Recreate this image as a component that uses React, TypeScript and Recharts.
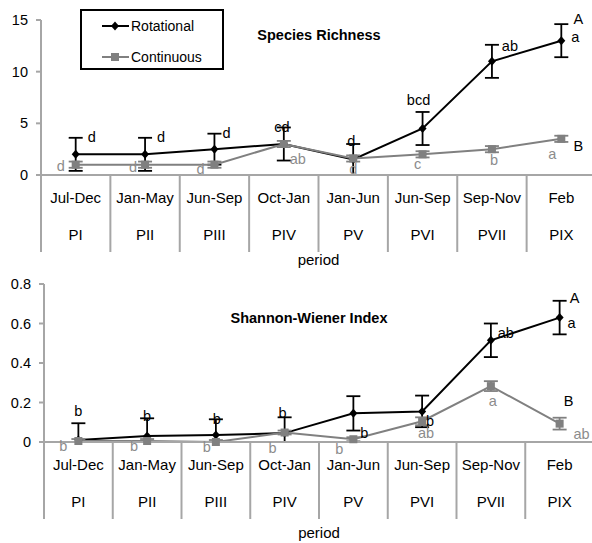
import React from "react";
import { LineChart, Line, XAxis, YAxis, ErrorBar, LabelList, Legend } from "recharts";

const months = ["Jul-Dec", "Jan-May", "Jun-Sep", "Oct-Jan", "Jan-Jun", "Jun-Sep", "Sep-Nov", "Feb"];
const periods = ["PI", "PII", "PIII", "PIV", "PV", "PVI", "PVII", "PIX"];
const seriesNames = ["Rotational", "Continuous"];

// Species richness
const richRot = [2, 2, 2.5, 3, 1.5, 4.5, 11, 13];
const richRotErr = [1.6, 1.6, 1.5, 1.6, 1.5, 1.6, 1.6, 1.6];
const richCont = [1, 1, 1, 3, 1.6, 2, 2.5, 3.5];
const richContErr = [0.3, 0.3, 0.3, 0.3, 0.3, 0.3, 0.3, 0.3];
const richRotLetters = ["d", "d", "d", "cd", "d", "bcd", "ab", "a"];
const richContLetters = ["d", "d", "d", "ab", "d", "c", "b", "a"];
const richTicks = [0, 5, 10, 15];

// Shannon-Wiener index
const shanRot = [0.01, 0.03, 0.035, 0.045, 0.145, 0.155, 0.515, 0.63];
const shanRotErr = [0.085, 0.09, 0.08, 0.08, 0.087, 0.08, 0.085, 0.085];
const shanCont = [0.005, 0.005, 0, 0.048, 0.014, 0.105, 0.283, 0.093];
const shanContErr = [0.01, 0.01, 0.01, 0.01, 0.01, 0.02, 0.025, 0.03];
const shanRotLetters = ["b", "b", "b", "b", "b", "b", "ab", "a"];
const shanContLetters = ["b", "b", "b", "b", "b", "ab", "a", "ab"];
const shanTicks = [0, 0.2, 0.4, 0.6, 0.8];

const groupLetters = ["A", "B"];

// letter placement (px offset from the point)
const richRotPos = [[16, -17], [16, -17], [12, -16], [-2, -17], [-2, -19], [-4, -29], [18, -15], [14, -4]];
const richContPos = [[-15, 1], [-12, 2], [-14, 4], [14, 15], [0, 10], [-5, 10], [2, 11], [-9, 15]];
const shanRotPos = [[0, -29], [0, -20], [1, -16], [-2, -20], [11, 20], [8, 10], [15, -7], [12, 5]];
const shanContPos = [[-15, 5], [-13, 5], [-9, 5], [-12, 15], [-14, 10], [4, 12], [2, 15], [22, 10]];

const BLACK = "#000000";
const GREY = "#808080";
const GREY_TXT = "#8c8c8c";
const AXIS = "#a6a6a6";
const FONT = "'Liberation Sans', Arial, sans-serif";

// error bars stop at the category axis (value 0), like the original plot
const errRange = (v: number, e: number) => [Math.min(e, v), e];

const buildRows = (rot: number[], rotErr: number[], cont: number[], contErr: number[], rotL: string[], contL: string[]) =>
  months.map((m, i) => ({
    i,
    rot: rot[i],
    rotErr: errRange(rot[i], rotErr[i]),
    cont: cont[i],
    contErr: errRange(cont[i], contErr[i]),
    rotL: rotL[i],
    contL: contL[i],
  }));

const richData = buildRows(richRot, richRotErr, richCont, richContErr, richRotLetters, richContLetters);
const shanData = buildRows(shanRot, shanRotErr, shanCont, shanContErr, shanRotLetters, shanContLetters);

const seps = [-0.5, 0.5, 1.5, 2.5, 3.5, 4.5, 5.5, 6.5, 7.5];
const cats = [0, 1, 2, 3, 4, 5, 6, 7];

const Diamond = (props: any) => {
  const { cx, cy } = props;
  if (cx == null || cy == null) return null;
  return <path d={`M${cx},${cy - 4.5}L${cx + 4},${cy}L${cx},${cy + 4.5}L${cx - 4},${cy}Z`} fill={BLACK} />;
};

const Square = (props: any) => {
  const { cx, cy } = props;
  if (cx == null || cy == null) return null;
  return <rect x={cx - 4} y={cy - 4} width={8} height={8} fill={GREY} />;
};

const EmptyTick = () => <g />;

const PeriodTick = (props: any) => {
  const { x, y, payload } = props;
  const i = payload.value;
  return (
    <g>
      <text x={x} y={y + 22.5} dy="0.35em" textAnchor="middle" fontSize={15} fill="#000">
        {months[i]}
      </text>
      <text x={x} y={y + 60} dy="0.35em" textAnchor="middle" fontSize={15} fill="#000">
        {periods[i]}
      </text>
    </g>
  );
};

const makeLetters =
  (pos: number[][], color: string, group: string, groupPos: number[]) => (props: any) => {
    const { x, y, index, value } = props;
    const [dx, dy] = pos[index];
    return (
      <g>
        <text x={x + dx} y={y + dy} dy="0.35em" textAnchor="middle" fontSize={14.5} fill={color}>
          {value}
        </text>
        {index === months.length - 1 && (
          <text x={x + groupPos[0]} y={y + groupPos[1]} dy="0.35em" textAnchor="middle" fontSize={14.5} fill={BLACK}>
            {group}
          </text>
        )}
      </g>
    );
  };

const LegendBox = (props: any) => {
  const items = [...(props.payload || [])].sort(
    (a: any, b: any) => seriesNames.indexOf(a.value) - seriesNames.indexOf(b.value)
  );
  return (
    <div style={{ position: "relative", width: 140, height: 57, border: "2px solid #000", background: "#fff", fontFamily: FONT }}>
      {items.map((p: any, k: number) => (
        <div
          key={p.value}
          style={{ position: "absolute", left: 0, top: (k === 0 ? 15 : 46) - 8, height: 16, display: "flex", alignItems: "center" }}
        >
          <svg width={49} height={16} style={{ display: "block" }}>
            <line x1={20} y1={8} x2={47} y2={8} stroke={p.color} strokeWidth={2} />
            {p.value === seriesNames[0] ? <Diamond cx={33} cy={8} /> : <Square cx={33} cy={8} />}
          </svg>
          <span style={{ fontSize: 14, color: "#000", lineHeight: "16px" }}>{p.value}</span>
        </div>
      ))}
    </div>
  );
};

type PanelProps = {
  data: any[];
  height: number;
  top: number;
  yWidth: number;
  margin: any;
  domain: number[];
  ticks: number[];
  rotPos: number[][];
  contPos: number[][];
  groupA: number[];
  groupB: number[];
  labelOffset: number;
  legend?: boolean;
};

const Panel = (p: PanelProps) => (
  <div style={{ position: "absolute", left: 0, top: p.top }}>
    <LineChart width={600} height={p.height} data={p.data} margin={p.margin}>
      <XAxis
        xAxisId="main"
        type="number"
        dataKey="i"
        domain={[-0.5, 7.5]}
        ticks={cats}
        interval={0}
        height={1}
        tickSize={0}
        tickMargin={0}
        tickLine={false}
        axisLine={{ stroke: AXIS, strokeWidth: 2 }}
        tick={<PeriodTick />}
        label={{ value: "period", position: "bottom", offset: p.labelOffset, fontSize: 15, fill: "#000" }}
      />
      <XAxis
        xAxisId="sep"
        type="number"
        dataKey="i"
        domain={[-0.5, 7.5]}
        ticks={seps}
        interval={0}
        height={1}
        tick={<EmptyTick />}
        tickSize={76}
        tickLine={{ stroke: AXIS, strokeWidth: 2 }}
        axisLine={false}
      />
      <YAxis
        domain={p.domain}
        ticks={p.ticks}
        interval={0}
        width={p.yWidth}
        tickSize={5}
        tickMargin={8}
        tickLine={{ stroke: AXIS, strokeWidth: 2 }}
        axisLine={{ stroke: AXIS, strokeWidth: 2 }}
        tick={{ fill: "#000", fontSize: 14.5 }}
      />
      {p.legend && (
        <Legend
          layout="vertical"
          verticalAlign="middle"
          align="center"
          content={<LegendBox />}
          wrapperStyle={{ left: 80, top: 9, width: 144, height: 61 }}
        />
      )}
      <Line
        xAxisId="main"
        dataKey="rot"
        name={seriesNames[0]}
        stroke={BLACK}
        strokeWidth={2}
        dot={<Diamond />}
        activeDot={false}
        isAnimationActive={false}
      >
        <ErrorBar dataKey="rotErr" direction="y" width={7} stroke={BLACK} strokeWidth={1.8} />
        <LabelList dataKey="rotL" content={makeLetters(p.rotPos, BLACK, groupLetters[0], p.groupA)} />
      </Line>
      <Line
        xAxisId="main"
        dataKey="cont"
        name={seriesNames[1]}
        stroke={GREY}
        strokeWidth={2}
        dot={<Square />}
        activeDot={false}
        isAnimationActive={false}
      >
        <ErrorBar dataKey="contErr" direction="y" width={7} stroke={GREY} strokeWidth={1.8} />
        <LabelList dataKey="contL" content={makeLetters(p.contPos, GREY_TXT, groupLetters[1], p.groupB)} />
      </Line>
    </LineChart>
  </div>
);

export default function App() {
  return (
    <div
      style={{
        position: "absolute",
        left: 0,
        top: 0,
        width: 592,
        height: 543,
        overflow: "hidden",
        background: "#fff",
        fontFamily: FONT,
      }}
    >
      <Panel
        data={richData}
        height={270}
        top={0}
        yWidth={41}
        margin={{ top: 20, right: 4, bottom: 93, left: 0 }}
        domain={[0, 15]}
        ticks={richTicks}
        rotPos={richRotPos}
        contPos={richContPos}
        groupA={[17, -22]}
        groupB={[17, 7]}
        labelOffset={78}
        legend
      />
      <Panel
        data={shanData}
        height={273}
        top={270}
        yWidth={44}
        margin={{ top: 14, right: 6, bottom: 99, left: 0 }}
        domain={[0, 0.8]}
        ticks={shanTicks}
        rotPos={shanRotPos}
        contPos={shanContPos}
        groupA={[15, -20]}
        groupB={[9, -23]}
        labelOffset={84}
      />
      <div style={{ position: "absolute", left: 319, top: 35, transform: "translate(-50%, -50%)", fontWeight: "bold", fontSize: 14.5, whiteSpace: "nowrap" }}>
        Species Richness
      </div>
      <div style={{ position: "absolute", left: 309, top: 318, transform: "translate(-50%, -50%)", fontWeight: "bold", fontSize: 14.5, whiteSpace: "nowrap" }}>
        Shannon-Wiener Index
      </div>
    </div>
  );
}
